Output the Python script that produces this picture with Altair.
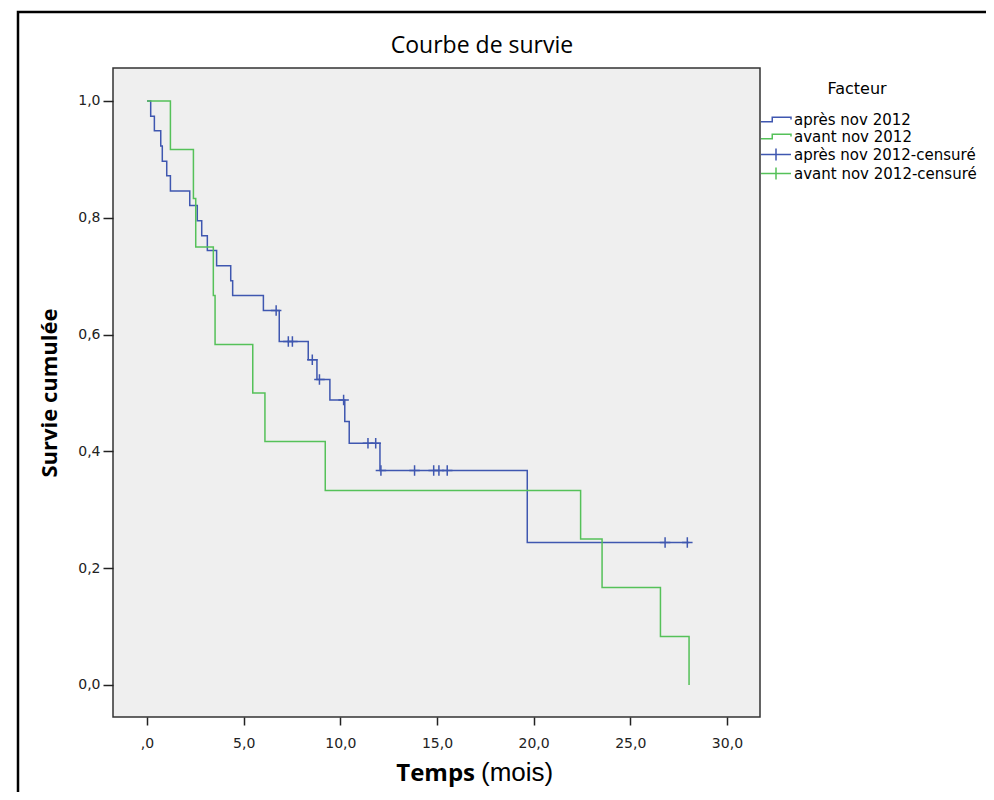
import altair as alt
import pandas as pd

# ---------------- data ----------------
# "après nov 2012" Kaplan-Meier step curve (time in months, cumulative survival)
apres_temps = [0.0, 0.19, 0.38, 0.71, 0.79, 1.02, 1.21, 2.21, 2.60, 2.83, 3.12, 3.60,
               4.33, 4.43, 6.02, 6.84, 8.34, 8.79, 9.46, 10.23, 10.46, 12.05, 19.67, 28.05]
apres_survie = [1.0, 0.974, 0.949, 0.923, 0.897, 0.872, 0.846, 0.821, 0.795, 0.769, 0.744, 0.718,
                0.692, 0.667, 0.641, 0.588, 0.557, 0.523, 0.488, 0.451, 0.414, 0.367, 0.244, 0.244]

# "avant nov 2012" step curve
avant_temps = [0.0, 1.21, 2.40, 2.52, 3.43, 3.52, 5.47, 6.10, 9.22, 22.43, 23.54, 26.56, 28.04]
avant_survie = [1.0, 0.917, 0.833, 0.750, 0.667, 0.583, 0.500, 0.417, 0.333, 0.250, 0.167, 0.083, 0.0]

# censored observations ("après nov 2012-censuré")
cens_temps = [6.68, 7.31, 7.52, 8.55, 8.92, 10.17, 11.43, 11.83, 12.10, 13.84, 14.83, 15.10,
              15.53, 26.80, 27.95]
cens_survie = [0.641, 0.588, 0.588, 0.557, 0.523, 0.488, 0.414, 0.414, 0.367, 0.367, 0.367, 0.367,
               0.367, 0.244, 0.244]

groupes = ["après nov 2012", "avant nov 2012", "après nov 2012-censuré", "avant nov 2012-censuré"]
couleurs = ["#3f57b0", "#55c159", "#3f57b0", "#55c159"]

x_ticks = [0, 5, 10, 15, 20, 25, 30]
x_tick_labels = [",0", "5,0", "10,0", "15,0", "20,0", "25,0", "30,0"]
y_ticks = [0.0, 0.2, 0.4, 0.6, 0.8, 1.0]
y_tick_labels = ["0,0", "0,2", "0,4", "0,6", "0,8", "1,0"]

titre = "Courbe de survie"
titre_legende = "Facteur"

# ---------------- tables ----------------
lignes = pd.DataFrame({
    "temps": apres_temps + avant_temps,
    "survie": apres_survie + avant_survie,
    "groupe": [groupes[0]] * len(apres_temps) + [groupes[1]] * len(avant_temps),
})
censures = pd.DataFrame({
    "temps": cens_temps,
    "survie": cens_survie,
    "groupe": [groupes[2]] * len(cens_temps),
})
une_ligne = pd.DataFrame({"k": [0]})


def label_expr(values, labels):
    expr = "''"
    for v, lab in reversed(list(zip(values, labels))):
        expr = f"abs(datum.value - {v}) < 1e-6 ? '{lab}' : {expr}"
    return expr


W, H = 647, 649
x_scale = alt.Scale(domain=[-1.76, 31.71], nice=False, zero=False)
y_scale = alt.Scale(domain=[-0.055, 1.0565], nice=False, zero=False)
color_scale = alt.Scale(domain=groupes, range=couleurs)

step_path = "M-3,0.3L-1.5,0.3L-1.5,-0.3L1,-0.3L1,0"
cross_legend = "M-3,0L1,0M-1,-0.8L-1,0.8"
shape_scale = alt.Scale(domain=groupes, range=[step_path, step_path, cross_legend, cross_legend])

X = alt.X("temps:Q", scale=x_scale,
          axis=alt.Axis(values=x_ticks, labelExpr=label_expr(x_ticks, x_tick_labels),
                        title=None, grid=False, domain=False, tickSize=8, tickWidth=1.5,
                        tickColor="#222222", labelFont="DejaVu Sans", labelFontSize=14,
                        labelColor="#222222", labelPadding=11))
Y = alt.Y("survie:Q", scale=y_scale,
          axis=alt.Axis(values=y_ticks, labelExpr=label_expr(y_ticks, y_tick_labels),
                        title="Survie cumulée", titleFont="Open Sans", titleFontSize=22,
                        titleFontWeight="bold", titleColor="black", titlePadding=16,
                        grid=False, domain=False, tickSize=10, tickWidth=1.5,
                        tickColor="#222222", labelFont="DejaVu Sans", labelFontSize=14,
                        labelColor="#222222", labelPadding=3))

cadre = alt.Chart(une_ligne).mark_rect(filled=False, stroke="black", strokeWidth=2.5).encode(
    x=alt.value(-95), x2=alt.value(W + 300), y=alt.value(-56), y2=alt.value(H + 200))

courbes = alt.Chart(lignes).mark_line(interpolate="step-after", strokeWidth=1.5).encode(
    x=X, y=Y, color=alt.Color("groupe:N", scale=color_scale, legend=None))

marques = alt.Chart(censures).mark_point(
    shape="M0,-1L0,1M-1,0L1,0", size=110, filled=False, strokeWidth=1.5, opacity=1).encode(
    x=X, y=Y, color=alt.Color("groupe:N", scale=color_scale, legend=None))

leg = alt.Legend(title=None, orient="none", legendX=W + 15, legendY=43,
                 labelFont="DejaVu Sans", labelFontSize=15, labelColor="black",
                 labelOffset=2, symbolSize=225, symbolStrokeWidth=1.5, rowPadding=0,
                 padding=0, labelLimit=400)
legende = alt.Chart(censures).mark_point(filled=False, opacity=0).encode(
    x=X, y=Y,
    color=alt.Color("groupe:N", scale=color_scale, legend=leg),
    shape=alt.Shape("groupe:N", scale=shape_scale, legend=leg))

titre_leg_txt = alt.Chart(une_ligne).mark_text(
    text=titre_legende, font="DejaVu Sans", fontSize=16, align="center",
    baseline="alphabetic", color="black").encode(x=alt.value(744), y=alt.value(26))

titre_txt = alt.Chart(une_ligne).mark_text(
    text=titre, font="Open Sans", fontSize=23, align="center",
    baseline="alphabetic", color="black").encode(x=alt.value(369), y=alt.value(-15))

temps_txt = alt.Chart(une_ligne).mark_text(
    text="Temps", font="Open Sans", fontSize=24, fontWeight="bold", align="right",
    baseline="alphabetic", color="black").encode(x=alt.value(362), y=alt.value(H + 64))
mois_txt = alt.Chart(une_ligne).mark_text(
    text="(mois)", font="Liberation Sans", fontSize=26, align="left",
    baseline="alphabetic", color="black").encode(x=alt.value(368), y=alt.value(H + 64))

chart = alt.layer(cadre, courbes, marques, legende, titre_txt, titre_leg_txt,
                  temps_txt, mois_txt).resolve_legend(
    color="independent", shape="independent"
).properties(
    width=W, height=H,
    autosize=alt.AutoSizeParams(type="none"),
    padding={"left": 105, "top": 60, "right": 226, "bottom": 75},
    background="white",
).configure_view(fill="#efefef", stroke="#333333", strokeWidth=1.5)

chart.save("out.html", embed_options={"renderer": "svg", "actions": False})
